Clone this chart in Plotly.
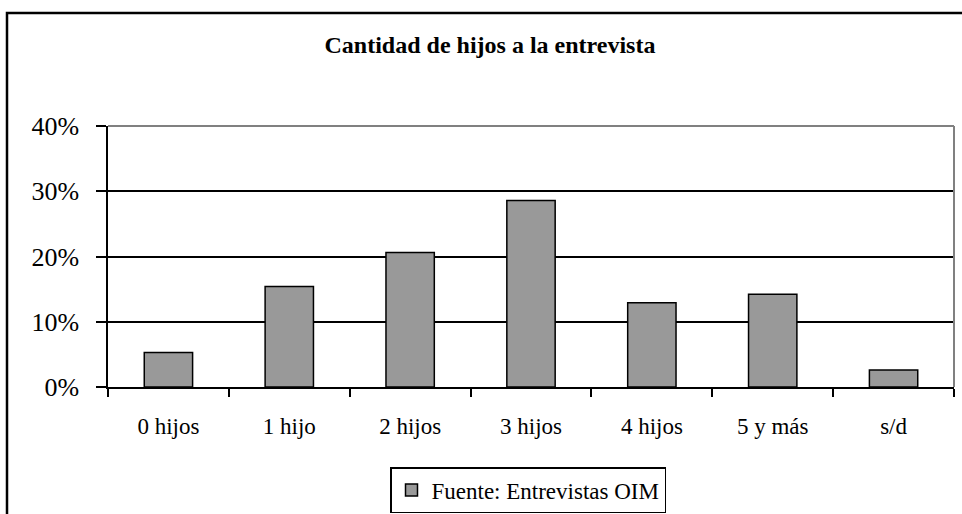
import plotly.graph_objects as go

categories = ["0 hijos", "1 hijo", "2 hijos", "3 hijos", "4 hijos", "5 y más", "s/d"]
values = [5.3, 15.4, 20.6, 28.6, 12.9, 14.2, 2.6]
series_name = "Fuente: Entrevistas OIM"
y_ticks = [0, 10, 20, 30, 40]
y_tick_labels = ["0%", "10%", "20%", "30%", "40%"]
title_text = "<b>Cantidad de hijos a la entrevista</b>"

SERIF = "Liberation Serif, Times New Roman, serif"

W, H = 962, 514
L, T, R, B = 108, 126, 8, 127
PW, PH = W - L - R, H - T - B

fig = go.Figure()
fig.add_trace(go.Bar(
    x=categories, y=values, name=series_name, width=0.4,
    marker=dict(color="#999999", line=dict(color="black", width=1.5)),
    showlegend=True,
))

fig.update_layout(
    width=W, height=H,
    margin=dict(l=L, r=R, t=T, b=B, pad=0, autoexpand=False),
    paper_bgcolor="white", plot_bgcolor="white",
    font=dict(family=SERIF, color="black"),
    title=dict(text=title_text, x=490/W, xanchor="center",
               y=1-45/H, yanchor="middle", yref="container",
               font=dict(family=SERIF, size=24, color="black")),
    showlegend=True,
    legend=dict(orientation="h", xref="container", yref="container",
                x=528/W, xanchor="center", y=1-467/H, yanchor="top",
                bordercolor="black", borderwidth=1.5, bgcolor="white",
                font=dict(family=SERIF, size=23, color="black")),
    xaxis=dict(showgrid=False, showline=True, linecolor="black", linewidth=1.5,
               ticks="outside", tickson="boundaries", ticklen=8, tickwidth=2,
               tickcolor="black", tickfont=dict(family=SERIF, size=23),
               ticklabelstandoff=18, automargin=False),
    yaxis=dict(range=[0, 40], tickmode="array", tickvals=y_ticks, ticktext=y_tick_labels,
               showgrid=True, gridcolor="black", gridwidth=1.5,
               showline=True, linecolor="black", linewidth=1.5,
               ticks="outside", ticklen=10, tickwidth=1.5, tickcolor="black",
               tickfont=dict(family=SERIF, size=26), ticklabelstandoff=12,
               zeroline=False, automargin=False),
    shapes=[
        dict(type="line", xref="paper", yref="paper", x0=0, x1=1, y0=1, y1=1,
             line=dict(color="#808080", width=2)),
        dict(type="line", xref="paper", yref="paper", x0=1, x1=1, y0=0, y1=1,
             line=dict(color="#808080", width=2)),
        dict(type="rect", xref="paper", yref="paper",
             x0=(7-L)/PW, x1=(W+30-L)/PW, y0=-(H+30-(T+PH))/PH, y1=(T+PH-13)/PH,
             line=dict(color="black", width=2.5), fillcolor="rgba(0,0,0,0)", layer="below"),
    ],
)

fig.write_html("out.html", config={"displayModeBar": False},
               post_script="document.body.style.margin='0';document.body.style.overflow='hidden';")
